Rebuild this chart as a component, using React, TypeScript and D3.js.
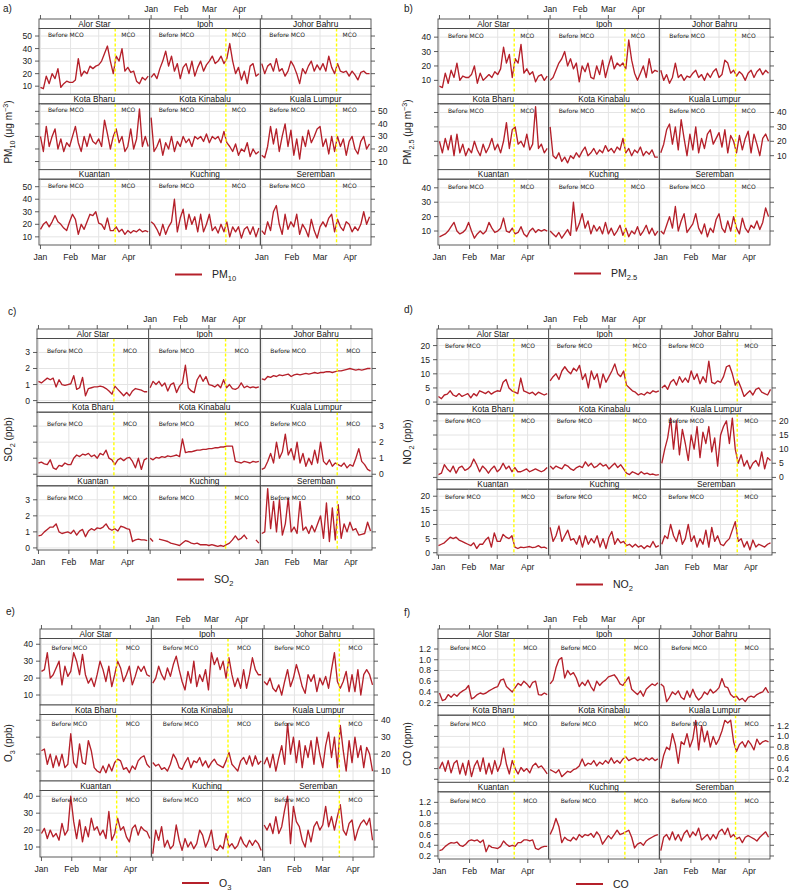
import React from "react";
import * as d3 from "d3";

const cities = ["Alor Star", "Ipoh", "Johor Bahru", "Kota Bharu", "Kota Kinabalu", "Kuala Lumpur", "Kuantan", "Kuching", "Seremban"];
const sampleDays = [0, 3, 6, 9, 12, 15, 18, 21, 24, 27, 30, 33, 36, 39, 42, 45, 48, 51, 54, 57, 60, 63, 66, 69, 72, 75, 78, 81, 84, 87, 90, 93, 96, 99, 102, 105, 108, 111];
const monthStarts = [0, 31, 60, 91];
const monthLabels = ["Jan", "Feb", "Mar", "Apr"];
const mcoStart = 77;

type V = number | null;

const pm10: V[][] = [
  [9, 8, 18, 12, 20, 16, 24, 9, 12, 14, 13, 13, 15, 32, 18, 22, 20, 26, 24, 26, 27, 30, 36, 42, 30, 20, 34, 30, 40, 22, 25, 21, 22, 14, 12, 17, 15, 18],
  [17, 20, 16, 24, 30, 38, 26, 34, 22, 28, 16, 25, 28, 20, 30, 18, 25, 30, 22, 27, 30, 34, 28, 30, 34, 28, 32, 44, 30, 20, 25, 15, 22, 12, 26, 28, 18, 20],
  [28, 20, 26, 28, 22, 32, 22, 24, 18, 22, 30, 26, 20, 12, 24, 20, 26, 30, 22, 27, 23, 28, 22, 34, 25, 20, 28, 22, 21, 22, 18, 22, 19, 15, 21, 22, 20, 20],
  [30, 18, 38, 22, 30, 36, 20, 28, 18, 25, 22, 30, 38, 25, 18, 30, 22, 32, 26, 24, 28, 22, 43, 32, 20, 30, 36, 25, 30, 18, 22, 36, 20, 28, 52, 22, 30, 22],
  [45, 18, 22, 28, 15, 25, 20, 30, 18, 26, 22, 30, 25, 28, 22, 30, 28, 30, 26, 32, 25, 30, 28, 30, 25, 34, 25, 22, 18, 24, 15, 20, 18, 25, 14, 20, 16, 18],
  [15, 13, 22, 38, 24, 36, 18, 30, 40, 22, 35, 15, 28, 12, 30, 22, 35, 25, 30, 36, 38, 22, 28, 16, 30, 18, 30, 22, 28, 15, 26, 30, 20, 16, 26, 30, 20, 24],
  [16, 20, 22, 18, 22, 27, 22, 20, 17, 15, 22, 28, 24, 12, 20, 16, 22, 28, 27, 30, 21, 20, 16, 25, 15, 15, 18, 14, 16, 12, 15, 13, 15, 14, 16, 14, 15, 14],
  [22, 20, 16, 11, 20, 12, 18, 22, 40, 14, 25, 32, 16, 28, 20, 26, 14, 28, 14, 20, 28, 15, 18, 13, 20, 14, 22, 10, 18, 14, 18, 9, 16, 18, 12, 18, 10, 17],
  [15, 12, 22, 15, 30, 35, 20, 12, 28, 16, 22, 18, 28, 12, 20, 16, 10, 24, 15, 9, 18, 22, 18, 25, 28, 14, 24, 18, 15, 22, 20, 14, 18, 15, 20, 30, 20, 26],
];

const pm25: V[][] = [
  [6, 5, 15, 8, 17, 12, 22, 10, 13, 12, 12, 14, 20, 8, 15, 10, 12, 14, 12, 16, 14, 18, 33, 22, 28, 12, 25, 22, 35, 15, 18, 14, 16, 9, 13, 14, 10, 13],
  [10, 12, 17, 22, 25, 30, 20, 25, 18, 22, 9, 20, 16, 22, 12, 11, 20, 14, 24, 12, 20, 27, 18, 22, 20, 22, 18, 38, 24, 15, 10, 15, 20, 12, 25, 15, 17, 16],
  [17, 10, 14, 8, 12, 22, 12, 14, 10, 13, 12, 15, 17, 12, 14, 10, 15, 12, 16, 18, 12, 14, 24, 22, 15, 17, 13, 16, 14, 10, 15, 17, 12, 16, 18, 14, 17, 15],
  [20, 12, 22, 14, 24, 10, 25, 12, 18, 10, 15, 12, 20, 14, 10, 18, 12, 16, 22, 14, 18, 12, 20, 33, 15, 28, 30, 18, 20, 16, 25, 14, 18, 44, 15, 18, 12, 15],
  [30, 10, 8, 12, 6, 9, 5, 10, 8, 12, 9, 13, 16, 10, 12, 15, 11, 14, 12, 17, 13, 15, 12, 16, 14, 22, 12, 15, 10, 14, 12, 16, 10, 13, 11, 14, 9, 9],
  [12, 18, 28, 32, 18, 30, 14, 35, 22, 10, 25, 14, 30, 12, 22, 15, 25, 28, 18, 22, 26, 16, 28, 12, 24, 20, 12, 24, 14, 22, 27, 12, 25, 18, 10, 22, 25, 20],
  [6, 7, 8, 10, 13, 16, 10, 8, 9, 11, 16, 10, 5, 8, 10, 8, 10, 16, 12, 9, 10, 12, 19, 10, 9, 12, 8, 9, 13, 8, 6, 10, 12, 9, 11, 10, 11, 10],
  [10, 8, 6, 9, 5, 8, 11, 7, 30, 10, 15, 22, 12, 17, 8, 14, 10, 13, 8, 16, 8, 12, 7, 10, 14, 7, 12, 6, 10, 8, 13, 7, 10, 14, 8, 12, 7, 10],
  [10, 8, 14, 20, 12, 27, 10, 17, 22, 9, 12, 15, 22, 12, 8, 15, 6, 12, 9, 18, 22, 12, 9, 17, 10, 20, 12, 8, 19, 12, 9, 14, 12, 17, 11, 16, 26, 20],
];

const so2: V[][] = [
  [1.2, 1.1, 1.25, 1.4, 1.3, 1.4, 0.85, 1.3, 1.0, 0.95, 1.0, 1.05, 1.55, 0.7, 0.8, 1.45, 0.3, 0.75, 0.8, 0.85, 0.85, 0.9, 0.85, 0.75, 0.6, 0.4, 0.9, 0.7, 0.5, 0.3, 0.5, 0.3, 0.6, 0.75, 0.7, 0.65, 0.55, 0.55],
  [0.8, 1.2, 1.0, 1.2, 0.9, 1.1, 0.6, 1.0, 1.1, 0.5, 0.9, 1.1, 2.2, 0.8, 0.6, 0.5, 1.3, 1.6, 1.2, 1.5, 1.0, 0.95, 0.85, 1.0, 0.8, 1.3, 0.8, 1.0, 0.75, 0.7, 0.8, 1.1, 0.8, 0.9, 0.8, 0.85, 0.8, 0.85],
  [1.35, 1.3, 1.5, 1.45, 1.55, 1.5, 1.6, 1.55, 1.6, 1.65, 1.5, 1.6, 1.65, 1.6, 1.65, 1.7, 1.65, 1.7, 1.75, 1.7, 1.75, 1.75, 1.8, 1.8, 1.75, 1.8, 1.85, 1.85, 1.9, 1.95, 2.0, 1.95, 1.9, 1.95, 1.9, 1.95, 2.0, 2.0],
  [0.7, 0.75, 0.65, 0.6, 0.9, 0.4, 0.3, 0.55, 0.5, 0.7, 0.6, 0.6, 1.0, 1.2, 1.1, 1.25, 1.2, 1.3, 1.1, 1.2, 1.0, 1.3, 1.2, 1.5, 1.0, 0.9, 0.6, 0.9, 1.0, 0.85, 1.0, 1.05, 0.8, 0.4, 1.0, 0.3, 0.9, 1.0],
  [1.0, 0.9, 1.05, 1.0, 1.1, 1.05, 1.15, 1.1, 1.15, 1.2, 1.1, 2.2, 1.35, 1.4, 1.4, 1.45, 1.5, 1.5, 1.55, 1.55, 1.6, 1.6, 1.65, 1.65, 1.7, 1.7, 1.75, 1.75, 1.75, 0.8, 0.75, 0.7, 0.8, 0.75, 0.7, 0.8, 0.75, 0.8],
  [0.3, 0.4, 0.8, 1.3, 0.7, 2.0, 1.0, 1.4, 2.5, 1.2, 1.6, 0.9, 2.0, 0.7, 1.3, 0.5, 1.0, 0.6, 1.5, 0.7, 2.0, 0.8, 0.6, 0.9, 0.5, 0.7, 0.6, 0.5, 0.7, 0.4, 0.6, 0.5, 1.0, 1.6, 0.8, 0.6, 0.3, 0.2],
  [0.75, 0.8, 1.0, 1.15, 1.3, 1.3, 1.5, 1.0, 0.9, 0.95, 1.0, 0.9, 1.1, 0.8, 1.05, 1.15, 0.7, 1.05, 1.2, 1.1, 1.25, 1.2, 1.3, 1.5, 1.2, 1.1, 1.2, 1.05, 1.35, 1.3, 1.2, 1.15, 0.4, 0.5, 0.55, 0.5, 0.5, 0.45],
  [0.6, 0.4, null, 0.55, 0.5, 0.45, 0.4, 0.3, 0.25, 0.2, 0.15, 0.3, 0.45, 0.4, 0.3, 0.25, 0.3, 0.2, 0.2, 0.2, 0.15, 0.2, 0.15, 0.1, 0.15, 0.1, 0.2, 0.3, 0.5, 0.75, 0.5, 0.6, 0.8, 0.55, null, null, 0.5, 0.3],
  [0.9, 1.0, 3.7, 1.2, 2.9, 1.0, 3.0, 0.8, 1.5, 3.1, 1.0, 1.3, 0.9, 2.9, 1.1, 1.3, 0.9, 1.4, 1.0, 1.5, 2.0, 0.6, 2.8, 0.4, 2.5, 0.5, 2.7, 0.6, 1.5, 1.0, 1.6, 1.1, 1.2, 0.8, 0.85, 0.9, 1.6, 1.05],
];

const no2: V[][] = [
  [2, 1.2, 2.5, 2.8, 4, 2.5, 2, 3, 2, 2.5, 3, 1.5, 3, 2.2, 4, 3.5, 3, 3.8, 2.8, 3.5, 4, 3.8, 7, 8, 5, 4, 3.5, 3, 8.5, 4, 3.5, 3, 3.5, 2.5, 3.5, 3, 2.5, 3],
  [7.5, 9, 10, 8, 11, 12.5, 11, 10, 12, 11, 13, 8, 10, 5, 11, 8, 10, 5, 10, 7, 9, 11, 13.5, 10, 9, 11, 6, 5, 4, 3.5, 2.5, 3, 2.5, 3.5, 3, 4, 3.5, 4],
  [5, 6, 4.5, 7, 8, 6, 9, 7, 8.5, 7, 11, 8, 10, 6.5, 9, 7, 14.5, 7, 6.5, 7.5, 7, 9, 12.5, 13, 10, 6, 7.5, 5, 2, 3, 4, 2.5, 4.5, 5, 3.5, 3, 2.5, 4.5],
  [1, 1.5, 4.5, 3, 2, 4, 1.5, 3.5, 4, 2.5, 3, 4, 6.5, 4.5, 2, 4, 3, 1.5, 3, 4, 2, 3, 5, 3, 4, 2, 3.5, 2, 2, 2.5, 3, 2, 2.5, 3, 2.5, 2, 2.5, 3.5],
  [4, 3, 4, 3.5, 3, 4.5, 4, 3, 2.5, 3.5, 4, 3.5, 5.5, 4, 5, 3.5, 4, 5, 4, 4.5, 3, 4, 5, 3.5, 4.5, 3, 1.5, 1, 2, 1.5, 1, 2, 1.2, 1.5, 1, 1.2, 0.8, 1],
  [5, 10, 14, 21, 10, 20, 8, 17, 12, 6, 15, 10, 18, 7, 16, 12, 18, 9, 14, 4, 15, 18, 20, 12, 21, 10, 5, 8, 4, 6, 3, 5, 6, 4, 9, 3, 7, 6],
  [2.5, 3, 3.5, 4.5, 5.5, 5, 5.5, 4.5, 4, 3.5, 3, 2.5, 3.5, 1.5, 3, 3, 4.5, 5.5, 2, 7, 4, 4, 6.5, 5.5, 5, 6, 2, 1.5, 2, 1.8, 2, 2.2, 1.8, 2, 2.5, 1.8, 2, 1.5],
  [9, 4, 6, 9.5, 4, 6, 8, 4.5, 5, 3, 6, 2, 6, 3, 5, 3.5, 6, 2, 5, 1.5, 5.5, 7.5, 3, 5, 3.5, 4, 2.5, 3, 2, 3, 2, 2.5, 1.5, 2.5, 2, 4, 2, 2.5],
  [3, 6, 5, 10, 6, 4, 8, 3, 5, 10, 4, 6, 2, 5, 3, 8, 2, 9, 4, 6, 3, 2.5, 4, 5, 8, 11, 4, 5, 2, 4, 1, 4.5, 2, 3, 2.5, 2, 3, 3.5],
];

const o3: V[][] = [
  [24, 25, 35, 20, 22, 26, 30, 16, 27, 21, 24, 35, 30, 22, 34, 22, 17, 20, 15, 22, 30, 25, 18, 27, 15, 22, 30, 26, 18, 22, 27, 16, 21, 27, 24, 27, 22, 21],
  [17, 20, 27, 22, 19, 26, 21, 28, 33, 25, 18, 13, 24, 17, 30, 15, 22, 18, 25, 13, 35, 28, 32, 25, 30, 20, 32, 22, 15, 20, 14, 25, 14, 22, 32, 25, 22, 22],
  [18, 16, 20, 14, 12, 16, 10, 18, 25, 15, 20, 28, 22, 15, 11, 22, 18, 22, 12, 20, 16, 21, 14, 25, 35, 18, 14, 18, 24, 12, 22, 12, 25, 10, 22, 25, 22, 16],
  [22, 23, 14, 20, 12, 19, 13, 20, 12, 14, 32, 15, 12, 26, 15, 14, 28, 22, 12, 10, 9, 13, 9, 14, 10, 15, 17, 16, 11, 12, 9, 13, 11, 16, 18, 19, 14, 12],
  [15, 13, 14, 11, 12, 10, 14, 20, 17, 12, 11, 15, 18, 12, 16, 15, 18, 13, 16, 12, 15, 17, 14, 13, 12, 16, 21, 14, 12, 10, 16, 18, 14, 19, 13, 19, 14, 16],
  [14, 18, 12, 20, 10, 18, 25, 14, 38, 20, 30, 15, 28, 12, 25, 18, 28, 14, 30, 20, 12, 25, 33, 18, 30, 12, 37, 22, 10, 28, 15, 30, 18, 25, 12, 24, 20, 10],
  [18, 21, 15, 20, 16, 18, 14, 24, 17, 20, 40, 25, 15, 26, 13, 22, 16, 27, 20, 22, 17, 20, 15, 31, 14, 18, 27, 20, 22, 16, 13, 21, 23, 17, 22, 20, 19, 15],
  [6, 20, 14, 22, 10, 14, 9, 11, 23, 14, 8, 15, 10, 13, 9, 12, 20, 17, 10, 14, 20, 9, 8, 11, 9, 18, 10, 12, 9, 11, 16, 12, 10, 14, 11, 14, 12, 8],
  [23, 20, 24, 18, 28, 18, 22, 32, 40, 12, 34, 25, 22, 14, 10, 20, 13, 22, 25, 20, 23, 34, 22, 28, 20, 28, 35, 20, 17, 24, 26, 14, 20, 24, 26, 23, 27, 14],
];

const co: V[][] = [
  [0.38, 0.24, 0.26, 0.35, 0.3, 0.36, 0.32, 0.38, 0.42, 0.45, 0.52, 0.27, 0.3, 0.35, 0.38, 0.36, 0.38, 0.42, 0.45, 0.48, 0.5, 0.62, 0.64, 0.5, 0.45, 0.4, 0.48, 0.56, 0.52, 0.6, 0.55, 0.48, 0.58, 0.6, 0.35, 0.34, 0.38, 0.35],
  [0.55, 0.62, 0.85, 1.0, 1.04, 0.66, 0.8, 0.72, 0.76, 0.66, 0.5, 0.58, 0.52, 0.62, 0.5, 0.42, 0.6, 0.52, 0.58, 0.62, 0.68, 0.7, 0.72, 0.65, 0.55, 0.52, 0.6, 0.68, 0.45, 0.4, 0.35, 0.42, 0.32, 0.45, 0.5, 0.55, 0.52, 0.57],
  [0.55, 0.5, 0.22, 0.3, 0.4, 0.35, 0.42, 0.3, 0.26, 0.42, 0.3, 0.45, 0.32, 0.25, 0.3, 0.4, 0.35, 0.45, 0.38, 0.42, 0.48, 0.65, 0.5, 0.48, 0.35, 0.3, 0.32, 0.25, 0.28, 0.22, 0.3, 0.32, 0.3, 0.35, 0.38, 0.4, 0.48, 0.38],
  [0.4, 0.52, 0.35, 0.55, 0.32, 0.5, 0.55, 0.3, 0.5, 0.28, 0.55, 0.25, 0.45, 0.55, 0.35, 0.6, 0.3, 0.5, 0.3, 0.55, 0.35, 0.48, 0.78, 0.48, 0.3, 0.55, 0.4, 0.3, 0.42, 0.35, 0.4, 0.32, 0.45, 0.5, 0.42, 0.45, 0.38, 0.3],
  [0.38, 0.35, 0.32, 0.38, 0.25, 0.3, 0.35, 0.33, 0.38, 0.4, 0.45, 0.58, 0.45, 0.5, 0.48, 0.55, 0.45, 0.52, 0.48, 0.55, 0.5, 0.6, 0.5, 0.55, 0.5, 0.58, 0.62, 0.55, 0.58, 0.6, 0.55, 0.58, 0.55, 0.6, 0.56, 0.6, 0.55, 0.58],
  [0.4, 0.65, 0.8, 0.75, 1.05, 0.85, 0.5, 0.9, 0.85, 1.05, 0.8, 0.95, 1.3, 0.75, 1.2, 0.9, 1.1, 0.8, 1.0, 0.85, 0.95, 1.1, 1.3, 1.25, 1.3, 0.9, 0.72, 0.85, 0.9, 0.8, 0.92, 0.85, 0.75, 0.95, 0.85, 0.9, 0.92, 0.9],
  [0.3, 0.32, 0.38, 0.42, 0.45, 0.44, 0.46, 0.4, 0.38, 0.42, 0.48, 0.5, 0.48, 0.5, 0.45, 0.5, 0.28, 0.4, 0.36, 0.35, 0.34, 0.38, 0.48, 0.42, 0.38, 0.4, 0.38, 0.45, 0.45, 0.5, 0.5, 0.48, 0.5, 0.34, 0.32, 0.36, 0.38, 0.38],
  [0.6, 0.72, 0.9, 0.75, 0.45, 0.55, 0.5, 0.48, 0.55, 0.5, 0.6, 0.55, 0.6, 0.58, 0.62, 0.55, 0.65, 0.58, 0.42, 0.5, 0.58, 0.52, 0.6, 0.68, 0.6, 0.62, 0.65, 0.68, 0.55, 0.35, 0.42, 0.45, 0.4, 0.48, 0.52, 0.55, 0.58, 0.6],
  [0.3, 0.55, 0.6, 0.5, 0.65, 0.5, 0.6, 0.48, 0.62, 0.68, 0.55, 0.65, 0.58, 0.72, 0.5, 0.55, 0.6, 0.5, 0.6, 0.52, 0.65, 0.7, 0.6, 0.72, 0.55, 0.6, 0.52, 0.55, 0.45, 0.55, 0.58, 0.55, 0.52, 0.48, 0.55, 0.6, 0.65, 0.55],
];

type Part = { t: string; sub?: boolean; sup?: boolean };

const LINE_COLOR = "#b5202a";
const FRAME = "#4a4a4a";
const GRID = "#e4e4e4";
const FONT = "'Liberation Sans', Arial, sans-serif";

const panels = [
  { key: "a", data: pm10, left: 39, right: 371, top: 19, bottom: 245, yDomain: [3.5, 56], yTicks: [10, 20, 30, 40, 50], fmt: (d: number) => String(d), tag: "a)", tagX: 3, tagY: 12, titleX: 12, title: [{ t: "PM" }, { t: "10", sub: true }, { t: " (μg m" }, { t: "−3", sup: true }, { t: ")" }] as Part[], legendX: 175, legendY: 274.5, legend: [{ t: "PM" }, { t: "10", sub: true }] as Part[], txDx: 9, txDy: 8.5, mcoDx: 6 },
  { key: "b", data: pm25, left: 438, right: 770, top: 19, bottom: 245, yDomain: [0.3, 46], yTicks: [10, 20, 30, 40], fmt: (d: number) => String(d), tag: "b)", tagX: 404, tagY: 12, titleX: 411, title: [{ t: "PM" }, { t: "2.5", sub: true }, { t: " (μg m" }, { t: "−3", sup: true }, { t: ")" }] as Part[], legendX: 574, legendY: 273.5, legend: [{ t: "PM" }, { t: "2.5", sub: true }] as Part[], txDx: 10, txDy: 9.5, mcoDx: 6 },
  { key: "c", data: so2, left: 37, right: 372, top: 329, bottom: 550, yDomain: [-0.13, 3.87], yTicks: [0, 1, 2, 3], fmt: (d: number) => String(d), tag: "c)", tagX: 8, tagY: 315, titleX: 12, title: [{ t: "SO" }, { t: "2", sub: true }, { t: " (ppb)" }] as Part[], legendX: 177, legendY: 579.5, legend: [{ t: "SO" }, { t: "2", sub: true }] as Part[], txDx: 10, txDy: 14, mcoDx: 9 },
  { key: "d", data: no2, left: 437, right: 772, top: 329, bottom: 555, yDomain: [-0.8, 22.5], yTicks: [0, 5, 10, 15, 20], fmt: (d: number) => String(d), tag: "d)", tagX: 404, tagY: 313, titleX: 411, title: [{ t: "NO" }, { t: "2", sub: true }, { t: " (ppb)" }] as Part[], legendX: 576, legendY: 584.5, legend: [{ t: "NO" }, { t: "2", sub: true }] as Part[], txDx: 8, txDy: 9.5, mcoDx: 7 },
  { key: "e", data: o3, left: 40, right: 374, top: 629, bottom: 857, yDomain: [4.1, 43.4], yTicks: [10, 20, 30, 40], fmt: (d: number) => String(d), tag: "e)", tagX: 6, tagY: 615, titleX: 12, title: [{ t: "O" }, { t: "3", sub: true }, { t: " (ppb)" }] as Part[], legendX: 182, legendY: 883, legend: [{ t: "O" }, { t: "3", sub: true }] as Part[], txDx: 11.5, txDy: 11, mcoDx: 9 },
  { key: "f", data: co, left: 438, right: 770, top: 629, bottom: 859, yDomain: [0.144, 1.396], yTicks: [0.2, 0.4, 0.6, 0.8, 1.0, 1.2], fmt: (d: number) => d.toFixed(1), tag: "f)", tagX: 404, tagY: 616, titleX: 411, title: [{ t: "CO (ppm)" }] as Part[], legendX: 576, legendY: 884, legend: [{ t: "CO" }] as Part[], txDx: 12, txDy: 11, mcoDx: 9 },
];

type Spec = (typeof panels)[number];

function rich(parts: Part[], size: number) {
  let shift = 0;
  const out: React.ReactNode[] = [];
  parts.forEach((p, i) => {
    const target = p.sub ? size * 0.3 : p.sup ? -size * 0.42 : 0;
    const dy = target - shift;
    shift = target;
    out.push(
      <tspan key={i} dy={dy} fontSize={p.sub || p.sup ? size * 0.72 : size}>
        {p.t}
      </tspan>
    );
  });
  return out;
}

const STRIP = 9.5;

function Panel({ s }: { s: Spec }) {
  const colW = (s.right - s.left) / 3;
  const rowH = (s.bottom - s.top) / 3;
  const plotH = rowH - STRIP;
  const x = d3.scaleLinear().domain([-1.5, 112.5]).range([0, colW]);
  const y = d3.scaleLinear().domain(s.yDomain).range([plotH, 0]);
  const line = d3
    .line<V>()
    .defined((v) => v != null)
    .x((_, i) => x(sampleDays[i]))
    .y((v) => y(v as number));

  const facets = cities.map((city, i) => {
    const col = i % 3;
    const row = Math.floor(i / 3);
    const gx = s.left + col * colW;
    const gy = s.top + row * rowH;
    const clipId = `clip-${s.key}-${i}`;
    const mx = x(mcoStart);
    return (
      <g key={city} transform={`translate(${gx},${gy})`}>
        <rect x={0} y={0} width={colW} height={STRIP} fill="#ffffff" stroke={FRAME} strokeWidth={0.9} />
        <text x={colW / 2} y={STRIP - 1.9} textAnchor="middle" fontSize={8.3} fontFamily={FONT} fill="#111">
          {city}
        </text>
        <g transform={`translate(0,${STRIP})`}>
          <clipPath id={clipId}>
            <rect x={0} y={0} width={colW} height={plotH} />
          </clipPath>
          {monthStarts.map((m) => (
            <line key={"v" + m} x1={x(m)} x2={x(m)} y1={0} y2={plotH} stroke={GRID} strokeWidth={1} />
          ))}
          {s.yTicks.map((t) => (
            <line key={"h" + t} x1={0} x2={colW} y1={y(t)} y2={y(t)} stroke={GRID} strokeWidth={1} />
          ))}
          <path d={line(s.data[i]) || ""} fill="none" stroke={LINE_COLOR} strokeWidth={1.35} strokeLinejoin="round" clipPath={`url(#${clipId})`} />
          <line x1={mx} x2={mx} y1={0} y2={plotH} stroke="#ffff00" strokeWidth={1.4} strokeDasharray="3,2" />
          <text x={s.txDx} y={s.txDy} fontSize={6} fontFamily="'DejaVu Sans', sans-serif" fill="#222">
            Before MCO
          </text>
          <text x={mx + s.mcoDx} y={s.txDy} fontSize={6} fontFamily="'DejaVu Sans', sans-serif" fill="#222">
            MCO
          </text>
          <rect x={0} y={0} width={colW} height={plotH} fill="none" stroke={FRAME} strokeWidth={0.9} />
        </g>
      </g>
    );
  });

  const axes: React.ReactNode[] = [];
  for (let row = 0; row < 3; row++) {
    const py = s.top + row * rowH + STRIP;
    s.yTicks.forEach((t) => {
      const ty = py + y(t);
      axes.push(<line key={`lt${row}-${t}`} x1={s.left - 4} x2={s.left} y1={ty} y2={ty} stroke={FRAME} strokeWidth={0.9} />);
      axes.push(<line key={`rt${row}-${t}`} x1={s.right} x2={s.right + 4} y1={ty} y2={ty} stroke={FRAME} strokeWidth={0.9} />);
      if (row !== 1) {
        axes.push(
          <text key={`ll${row}-${t}`} x={s.left - 7} y={ty + 3} textAnchor="end" fontSize={8.6} fontFamily={FONT} fill="#222">
            {s.fmt(t)}
          </text>
        );
      } else {
        axes.push(
          <text key={`rl${row}-${t}`} x={s.right + 7} y={ty + 3} textAnchor="start" fontSize={8.6} fontFamily={FONT} fill="#222">
            {s.fmt(t)}
          </text>
        );
      }
    });
  }
  for (let col = 0; col < 3; col++) {
    const gx = s.left + col * colW;
    monthStarts.forEach((m, j) => {
      const tx = gx + x(m);
      axes.push(<line key={`tt${col}-${m}`} x1={tx} x2={tx} y1={s.top - 4} y2={s.top} stroke={FRAME} strokeWidth={0.9} />);
      axes.push(<line key={`bt${col}-${m}`} x1={tx} x2={tx} y1={s.bottom} y2={s.bottom + 4} stroke={FRAME} strokeWidth={0.9} />);
      if (col === 1) {
        axes.push(
          <text key={`tl${col}-${m}`} x={tx} y={s.top - 7} textAnchor="middle" fontSize={8.6} fontFamily={FONT} fill="#222">
            {monthLabels[j]}
          </text>
        );
      } else {
        axes.push(
          <text key={`bl${col}-${m}`} x={tx} y={s.bottom + 15} textAnchor="middle" fontSize={8.6} fontFamily={FONT} fill="#222">
            {monthLabels[j]}
          </text>
        );
      }
    });
  }

  const cy = (s.top + s.bottom) / 2;
  return (
    <g>
      <text x={s.tagX} y={s.tagY} fontSize={10} fontFamily={FONT} fill="#222">
        {s.tag}
      </text>
      {facets}
      {axes}
      <text transform={`translate(${s.titleX},${cy}) rotate(-90)`} textAnchor="middle" fontFamily={FONT} fill="#222" fontSize={10}>
        {rich(s.title, 10)}
      </text>
      <line x1={s.legendX} x2={s.legendX + 27} y1={s.legendY} y2={s.legendY} stroke={LINE_COLOR} strokeWidth={2} />
      <text x={s.legendX + 37} y={s.legendY + 3.5} fontFamily={FONT} fill="#222" fontSize={10.5}>
        {rich(s.legend, 10.5)}
      </text>
    </g>
  );
}

export default function App() {
  return (
    <svg width={789} height={892} style={{ position: "absolute", left: 0, top: 0, display: "block", background: "#fff" }}>
      <rect x={0} y={0} width={789} height={892} fill="#fff" />
      {panels.map((s) => (
        <Panel key={s.key} s={s} />
      ))}
    </svg>
  );
}
